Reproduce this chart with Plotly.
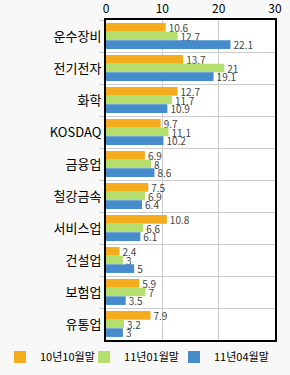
import plotly.graph_objects as go

categories = ["운수장비", "전기전자", "화학", "KOSDAQ", "금융업", "철강금속", "서비스업", "건설업", "보험업", "유통업"]
series_names = ["10년10월말", "11년01월말", "11년04월말"]
s_oct10 = [10.6, 13.7, 12.7, 9.7, 6.9, 7.5, 10.8, 2.4, 5.9, 7.9]
s_jan11 = [12.7, 21, 11.7, 11.1, 8, 6.9, 6.6, 3, 7, 3.2]
s_apr11 = [22.1, 19.1, 10.9, 10.2, 8.6, 6.4, 6.1, 5, 3.5, 3]
x_ticks = [0, 10, 20, 30]

colors = ["#f4ac1c", "#b4de6e", "#468ccc"]
font_fam = "Noto Sans CJK KR, Noto Sans, sans-serif"
legend_ids = ["legend", "legend2", "legend3"]
legend_x = [-0.028, 0.290, 0.600]

fig = go.Figure()
for name, vals, col, lid in zip(series_names, [s_oct10, s_jan11, s_apr11], colors, legend_ids):
    fig.add_trace(go.Bar(
        y=categories, x=vals, name=name, orientation="h",
        marker=dict(color=col, line=dict(width=0)),
        text=[str(v) for v in vals], textposition="outside",
        constraintext="none",
        textfont=dict(size=10, color="#444", family=font_fam),
        cliponaxis=False, legend=lid,
    ))

legend_common = dict(orientation="h", xref="container", yref="container",
                     xanchor="left", y=0.048, yanchor="middle",
                     font=dict(size=11, family=font_fam, color="#000"),
                     bgcolor="rgba(0,0,0,0)", itemwidth=30)
layout_legends = {lid: dict(legend_common, x=lx) for lid, lx in zip(legend_ids, legend_x)}

fig.update_layout(
    width=290, height=375,
    margin=dict(l=106, r=15, t=20, b=35, autoexpand=False),
    paper_bgcolor="#f8f8f8", plot_bgcolor="#ffffff",
    barmode="group", bargap=0.19, bargroupgap=0,
    font=dict(family=font_fam, color="#000"),
    showlegend=True,
    **layout_legends,
)
fig.update_xaxes(
    side="top", range=[0, 30], tickvals=x_ticks, ticktext=[str(t) for t in x_ticks],
    showgrid=True, gridcolor="#cccccc", gridwidth=1,
    showline=True, linecolor="#000", linewidth=2, mirror=True,
    ticks="", tickfont=dict(size=12, color="#000"), zeroline=False, fixedrange=True,
    automargin=False,
)
fig.update_yaxes(
    autorange="reversed", type="category", tickson="boundaries",
    showgrid=True, gridcolor="#cccccc", gridwidth=1,
    ticks="outside", ticklen=5, tickcolor="#cccccc", tickwidth=1,
    showline=True, linecolor="#000", linewidth=2, mirror=True,
    tickfont=dict(size=13, color="#000"), fixedrange=True,
    automargin=False,
)
fig.write_html("out.html")
